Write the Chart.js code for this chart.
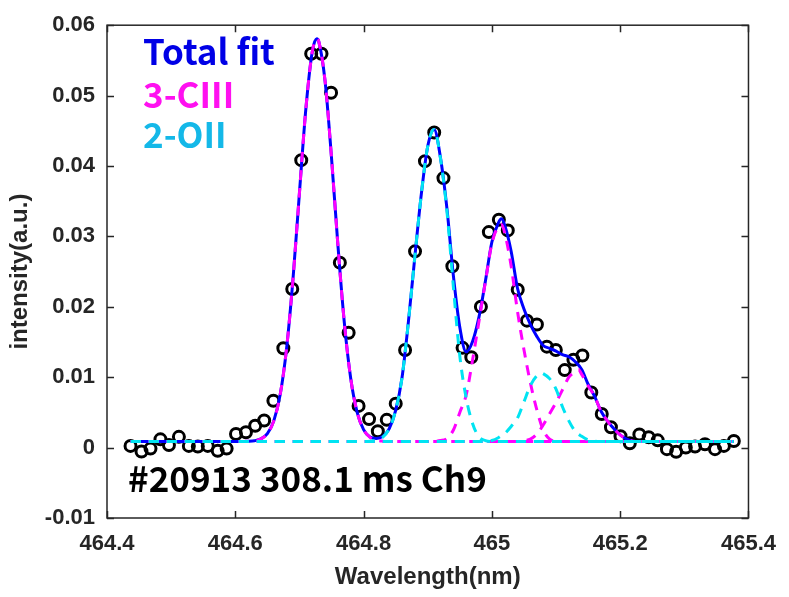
<!DOCTYPE html>
<html>
<head>
<meta charset="utf-8">
<script src="https://cdn.jsdelivr.net/npm/chart.js@4.4.1/dist/chart.umd.min.js"></script>
<style>
  html, body { margin: 0; padding: 0; background: #fff; }
  #wrap { width: 789px; height: 597px; position: relative; }
</style>
</head>
<body>
<div id="wrap"><canvas id="spectrum"></canvas></div>
<script>
// measured spectrum (circles)
const wavelength = [464.4367, 464.4538, 464.4678, 464.4833, 464.4966, 464.5121, 464.5276, 464.5416, 464.5571, 464.5726,
  464.5865, 464.6011, 464.6166, 464.6310, 464.6450, 464.6594, 464.6749, 464.6888, 464.7028, 464.7183,
  464.7344, 464.7493, 464.7630, 464.7767, 464.7922, 464.8085, 464.8222, 464.8361, 464.8501, 464.8647,
  464.8802, 464.8957, 464.9101, 464.9245, 464.9384, 464.9543, 464.9679, 464.9829, 464.9953, 465.0109,
  465.0248, 465.0403, 465.0547, 465.0702, 465.0857, 465.0997, 465.1136, 465.1271, 465.1411, 465.1550,
  465.1713, 465.1856, 465.2005, 465.2150, 465.2299, 465.2445, 465.2585, 465.2729, 465.2873, 465.3023,
  465.3167, 465.3322, 465.3478, 465.3617, 465.3772];
const intensity = [0.00024, -0.00055, -0.00014, 0.00117, 0.00037, 0.00153, 0.00024, 0.00014, 0.00024, -0.00046,
  -0.00014, 0.00194, 0.00218, 0.00311, 0.00384, 0.00666, 0.01411, 0.02252, 0.04083, 0.05595,
  0.05595, 0.05040, 0.02627, 0.01632, 0.00592, 0.00405, 0.00232, 0.00394, 0.00624, 0.01387,
  0.02788, 0.04069, 0.04476, 0.03828, 0.02576, 0.01417, 0.01283, 0.02000, 0.03061, 0.03237,
  0.03085, 0.02243, 0.01803, 0.01748, 0.01434, 0.01387, 0.01101, 0.01248, 0.01309, 0.00782,
  0.00478, 0.00290, 0.00162, 0.00061, 0.00186, 0.00148, 0.00103, -0.00022, -0.00060, 0.00000,
  0.00014, 0.00047, -0.00022, 0.00024, 0.00093];

// total fit
const totalX = [464.437, 464.60, 464.61, 464.62, 464.63, 464.64, 464.65, 464.66, 464.67, 464.68, 464.69,
  464.70, 464.71, 464.72, 464.727, 464.73, 464.74, 464.75, 464.76, 464.77, 464.78, 464.79, 464.80,
  464.81, 464.82, 464.83, 464.84, 464.85, 464.86, 464.87, 464.88, 464.89, 464.90, 464.91, 464.92,
  464.93, 464.94, 464.95, 464.96, 464.97, 464.98, 464.99, 465.00, 465.01, 465.015, 465.02, 465.03,
  465.04, 465.05, 465.06, 465.07, 465.08, 465.09, 465.10, 465.11, 465.12, 465.13, 465.14, 465.15,
  465.16, 465.17, 465.18, 465.19, 465.20, 465.21, 465.22, 465.23, 465.377];
const totalY = [0.00086, 0.00086, 0.00087, 0.00089, 0.00097, 0.00124, 0.00199, 0.00380, 0.00754, 0.01414, 0.02400,
  0.03619, 0.04811, 0.05624, 0.05806, 0.05772, 0.05201, 0.04117, 0.02871, 0.01771, 0.00979, 0.00501, 0.00255,
  0.00150, 0.00130, 0.00160, 0.00270, 0.00530, 0.01000, 0.01800, 0.02720, 0.03600, 0.04280, 0.04520, 0.04110,
  0.03390, 0.02440, 0.01710, 0.01360, 0.01510, 0.01860, 0.02370, 0.02920, 0.03190, 0.03250, 0.03160, 0.02790,
  0.02260, 0.01970, 0.01750, 0.01580, 0.01450, 0.01410, 0.01370, 0.01320, 0.01290, 0.01220, 0.01110, 0.00900,
  0.00730, 0.00520, 0.00380, 0.00270, 0.00180, 0.00120, 0.00090, 0.00086, 0.00086];

// C III lines (3)
const ciii1X = [464.437, 464.60, 464.61, 464.62, 464.63, 464.64, 464.65, 464.66, 464.67, 464.68, 464.69,
  464.70, 464.71, 464.72, 464.727, 464.73, 464.74, 464.75, 464.76, 464.77, 464.78, 464.79, 464.80,
  464.81, 464.82, 464.83, 464.84, 464.85, 465.377];
const ciii1Y = [0.00086, 0.00086, 0.00087, 0.00089, 0.00097, 0.00124, 0.00199, 0.00380, 0.00754, 0.01414, 0.02400,
  0.03619, 0.04811, 0.05624, 0.05806, 0.05772, 0.05201, 0.04117, 0.02871, 0.01771, 0.00979, 0.00501, 0.00255,
  0.00146, 0.00105, 0.00091, 0.00087, 0.00086, 0.00086];
const ciii2X = [464.437, 464.90, 464.92, 464.93, 464.94, 464.95, 464.96, 464.97, 464.98, 464.99, 465.00,
  465.01, 465.015, 465.02, 465.03, 465.04, 465.05, 465.06, 465.07, 465.08, 465.09, 465.10, 465.11, 465.377];
const ciii2Y = [0.00086, 0.00086, 0.00100, 0.00130, 0.00250, 0.00500, 0.00750, 0.01250, 0.01800, 0.02360, 0.02900,
  0.03140, 0.03170, 0.03050, 0.02580, 0.01930, 0.01390, 0.00920, 0.00540, 0.00250, 0.00120, 0.00090, 0.00086, 0.00086];
const ciii3X = [464.437, 465.04, 465.05, 465.06, 465.07, 465.08, 465.09, 465.10, 465.11, 465.12, 465.13,
  465.135, 465.14, 465.15, 465.16, 465.17, 465.18, 465.19, 465.20, 465.21, 465.22, 465.23, 465.377];
const ciii3Y = [0.00086, 0.00086, 0.00100, 0.00120, 0.00190, 0.00320, 0.00480, 0.00640, 0.00820, 0.01000, 0.01080,
  0.01110, 0.01040, 0.00880, 0.00730, 0.00520, 0.00380, 0.00270, 0.00180, 0.00120, 0.00090, 0.00086, 0.00086];

// O II lines (2)
const oii1X = [464.437, 464.80, 464.81, 464.82, 464.83, 464.84, 464.85, 464.86, 464.87, 464.88, 464.89,
  464.90, 464.91, 464.92, 464.93, 464.94, 464.95, 464.96, 464.97, 464.98, 464.99, 465.00, 465.377];
const oii1Y = [0.00086, 0.00086, 0.00090, 0.00110, 0.00150, 0.00270, 0.00530, 0.01000, 0.01800, 0.02720, 0.03600,
  0.04280, 0.04520, 0.04100, 0.03350, 0.02280, 0.01300, 0.00700, 0.00340, 0.00150, 0.00100, 0.00086, 0.00086];
const oii2X = [464.437, 464.99, 465.00, 465.01, 465.015, 465.02, 465.03, 465.04, 465.05, 465.06, 465.07,
  465.077, 465.08, 465.09, 465.10, 465.11, 465.12, 465.13, 465.14, 465.15, 465.16, 465.17, 465.377];
const oii2Y = [0.00086, 0.00086, 0.00100, 0.00140, 0.00170, 0.00200, 0.00300, 0.00420, 0.00650, 0.00880, 0.01020,
  0.01060, 0.01050, 0.00980, 0.00830, 0.00580, 0.00380, 0.00230, 0.00160, 0.00110, 0.00090, 0.00086, 0.00086];

// axes
const xTicks = [464.4, 464.6, 464.8, 465, 465.2, 465.4];
const xTickLabels = ['464.4', '464.6', '464.8', '465', '465.2', '465.4'];
const yTicks = [-0.01, 0, 0.01, 0.02, 0.03, 0.04, 0.05, 0.06];
const yTickLabels = ['-0.01', '0', '0.01', '0.02', '0.03', '0.04', '0.05', '0.06'];

const legendLabels = ['Total fit', '3-CIII', '2-OII'];
const shotLabel = '#20913 308.1 ms Ch9';

const BLUE = '#0000ff';
const MAGENTA = '#ff00ff';
const CYAN = '#00e4f2';
const AXIS = '#262626';

const pts = (xs, ys) => xs.map((x, i) => ({ x: x, y: ys[i] }));

function dashed(data, color) {
  return {
    data: data,
    showLine: true,
    borderColor: color,
    borderWidth: 3,
    borderDash: [10, 8],
    pointRadius: 0,
    cubicInterpolationMode: 'monotone'
  };
}

// box, inward ticks and the text labels inside the plot
const frame = {
  id: 'frame',
  afterDatasetsDraw(chart) {
    const { ctx, chartArea: a } = chart;
    const sx = chart.scales.x, sy = chart.scales.y;
    ctx.save();
    ctx.strokeStyle = AXIS;
    ctx.lineWidth = 1.5;
    ctx.strokeRect(a.left, a.top, a.right - a.left, a.bottom - a.top);
    ctx.beginPath();
    xTicks.forEach(v => {
      const px = Math.round(sx.getPixelForValue(v)) + 0.5;
      ctx.moveTo(px, a.bottom); ctx.lineTo(px, a.bottom - 7);
      ctx.moveTo(px, a.top); ctx.lineTo(px, a.top + 7);
    });
    yTicks.forEach(v => {
      const py = Math.round(sy.getPixelForValue(v)) + 0.5;
      ctx.moveTo(a.left, py); ctx.lineTo(a.left + 7, py);
      ctx.moveTo(a.right, py); ctx.lineTo(a.right - 7, py);
    });
    ctx.stroke();

    ctx.textAlign = 'left';
    ctx.textBaseline = 'alphabetic';
    ctx.font = 'bold 35px "Noto Sans CJK KR", "Noto Sans", sans-serif';
    const legendColors = ['#0000e6', '#ff10f0', '#14b8e8'];
    const legendY = [40, 83, 123];
    legendLabels.forEach((t, i) => {
      ctx.fillStyle = legendColors[i];
      ctx.fillText(t, a.left + 36, a.top + legendY[i]);
    });
    ctx.fillStyle = '#000';
    ctx.fillText(shotLabel, a.left + 21, a.bottom - 26);
    ctx.restore();
  }
};

Chart.defaults.font.family = '"Liberation Sans", Arial, sans-serif';
Chart.defaults.color = AXIS;

new Chart(document.getElementById('spectrum'), {
  type: 'scatter',
  data: {
    datasets: [
      dashed(pts(oii2X, oii2Y), CYAN),
      dashed(pts(oii1X, oii1Y), CYAN),
      dashed(pts(ciii3X, ciii3Y), MAGENTA),
      dashed(pts(ciii2X, ciii2Y), MAGENTA),
      dashed(pts(ciii1X, ciii1Y), MAGENTA),
      {
        data: pts(totalX, totalY),
        showLine: true,
        borderColor: BLUE,
        borderWidth: 3,
        pointRadius: 0,
        cubicInterpolationMode: 'monotone'
      },
      {
        data: pts(wavelength, intensity),
        showLine: false,
        pointStyle: 'circle',
        pointRadius: 5.5,
        pointBorderWidth: 3,
        pointBorderColor: '#000',
        pointBackgroundColor: 'rgba(0,0,0,0)'
      }
    ]
  },
  options: {
    responsive: true,
    maintainAspectRatio: false,
    animation: false,
    layout: { padding: { top: 14, right: 37, left: 0, bottom: 0 } },
    plugins: { legend: { display: false }, tooltip: { enabled: false } },
    scales: {
      x: {
        type: 'linear',
        min: 464.4,
        max: 465.4,
        afterBuildTicks: s => { s.ticks = xTicks.map(v => ({ value: v })); },
        afterFit: s => { s.height = 79; },
        grid: { display: false, drawTicks: false },
        border: { display: false },
        ticks: {
          padding: 13,
          maxRotation: 0,
          autoSkip: false,
          font: { size: 22, weight: 'bold' },
          callback: (v, i) => xTickLabels[i]
        },
        title: {
          display: true,
          text: 'Wavelength(nm)',
          font: { size: 24, weight: 'bold' },
          padding: { top: 0, bottom: 5 }
        }
      },
      y: {
        type: 'linear',
        min: -0.01,
        max: 0.06,
        afterBuildTicks: s => { s.ticks = yTicks.map(v => ({ value: v })); },
        afterFit: s => { s.width = 107; },
        grid: { display: false, drawTicks: false },
        border: { display: false },
        ticks: {
          padding: 12,
          autoSkip: false,
          font: { size: 22, weight: 'bold' },
          callback: (v, i) => yTickLabels[i]
        },
        title: {
          display: true,
          text: 'intensity(a.u.)',
          font: { size: 24, weight: 'bold' },
          padding: { top: 6, bottom: 0 }
        }
      }
    }
  },
  plugins: [frame]
});
</script>
</body>
</html>
